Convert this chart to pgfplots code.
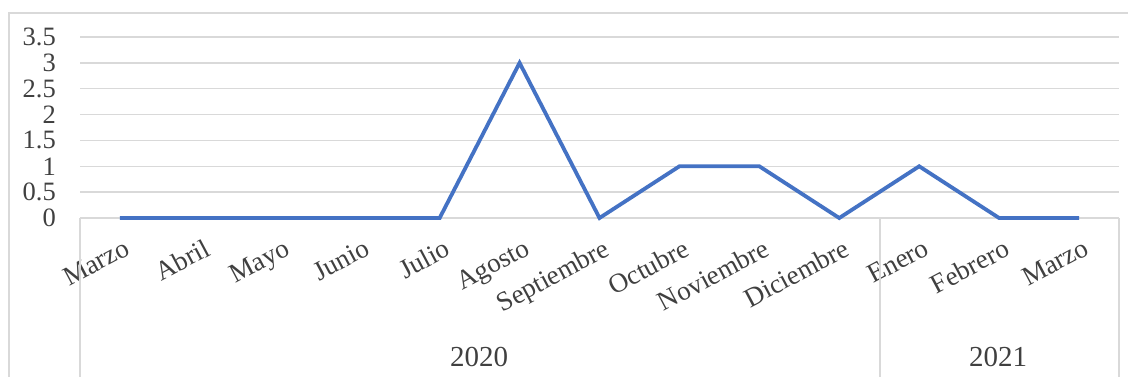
\documentclass[border=0pt]{standalone}
\usepackage{fontspec}
\setmainfont{Liberation Serif}
\usepackage{pgfplots}
\pgfplotsset{compat=1.18}
\definecolor{lineblue}{HTML}{4472C4}
\definecolor{gridgray}{HTML}{D9D9D9}
\definecolor{txt}{HTML}{404040}
\newcommand{\lblfont}{\fontsize{26.5}{31}\selectfont}
\newcommand{\catfont}{\fontsize{27}{32}\selectfont}
\newcommand{\yearfont}{\fontsize{29}{34}\selectfont}

\begin{document}
\begin{tikzpicture}
\useasboundingbox (0pt,0pt) rectangle (1128pt,376pt);
\fill[white] (0pt,0pt) rectangle (1128pt,376pt);
% chart area frame
\draw[gridgray, line width=1.5pt] (9pt,-5pt) -- (9pt,363pt) -- (1135pt,363pt);
\begin{axis}[
  at={(80pt,158pt)}, anchor=south west,
  scale only axis, width=1039pt, height=181pt,
  xmin=-0.5, xmax=12.5, ymin=0, ymax=3.5,
  clip=false,
  axis line style={draw=none},
  major tick length=0pt,
  ymajorgrids,
  grid style={gridgray, line width=1.5pt},
  ytick={0,0.5,1,1.5,2,2.5,3,3.5},
  yticklabels={0,0.5,1,1.5,2,2.5,3,3.5},
  xtick={0,1,2,3,4,5,6,7,8,9,10,11,12},
  xticklabels={Marzo,Abril,Mayo,Junio,Julio,Agosto,Septiembre,Octubre,Noviembre,Diciembre,Enero,Febrero,Marzo},
  tick label style={text=txt, inner sep=0pt},
  yticklabel style={font=\lblfont, anchor=east, xshift=-24pt},
  xticklabel style={font=\catfont, rotate=28, anchor=north east, yshift=-19pt, xshift=-6.5pt},
]
\addplot[lineblue, line width=3.8pt, line join=miter] coordinates {
  (0,0) (1,0) (2,0) (3,0) (4,0) (5,3) (6,0) (7,1) (8,1) (9,0) (10,1) (11,0) (12,0)
};
\end{axis}
% year group separators and labels
\draw[gridgray, line width=1.5pt] (80pt,158pt) -- (80pt,-5pt);
\draw[gridgray, line width=1.5pt] (880pt,158pt) -- (880pt,-5pt);
\draw[gridgray, line width=1.5pt] (1119pt,158pt) -- (1119pt,-5pt);
\node[font=\yearfont, text=txt] at (479pt,19pt) {2020};
\node[font=\yearfont, text=txt] at (998pt,19pt) {2021};
\end{tikzpicture}
\end{document}
